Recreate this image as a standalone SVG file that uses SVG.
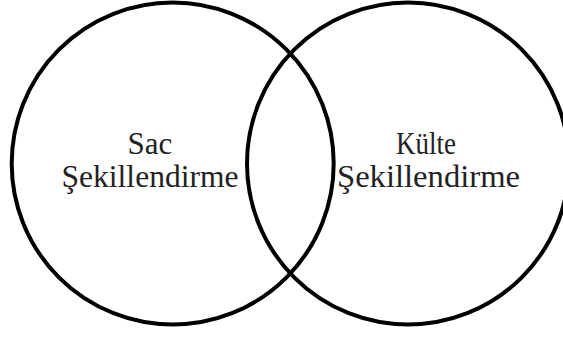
<svg xmlns="http://www.w3.org/2000/svg" width="563" height="338" viewBox="0 0 563 338">
<style>
.c{fill:none;stroke:#000;stroke-width:4}
.t{font-family:"Liberation Serif","Times New Roman",serif;font-size:31px;fill:#222;text-anchor:middle}
</style>
<rect width="563" height="338" fill="#fff"/>
<g id="sac">
<circle class="c" cx="172.7" cy="163.5" r="161"/>
<text class="t" x="150" y="154">Sac</text>
<text class="t" x="150" y="187" textLength="177" lengthAdjust="spacingAndGlyphs">Şekillendirme</text>
</g>
<g id="kulte">
<circle class="c" cx="408" cy="163.5" r="161"/>
<text class="t" x="426" y="154" textLength="60" lengthAdjust="spacingAndGlyphs">Külte</text>
<text class="t" x="428.5" y="187" textLength="183" lengthAdjust="spacingAndGlyphs">Şekillendirme</text>
</g>
<g id="connectors"></g>
</svg>
